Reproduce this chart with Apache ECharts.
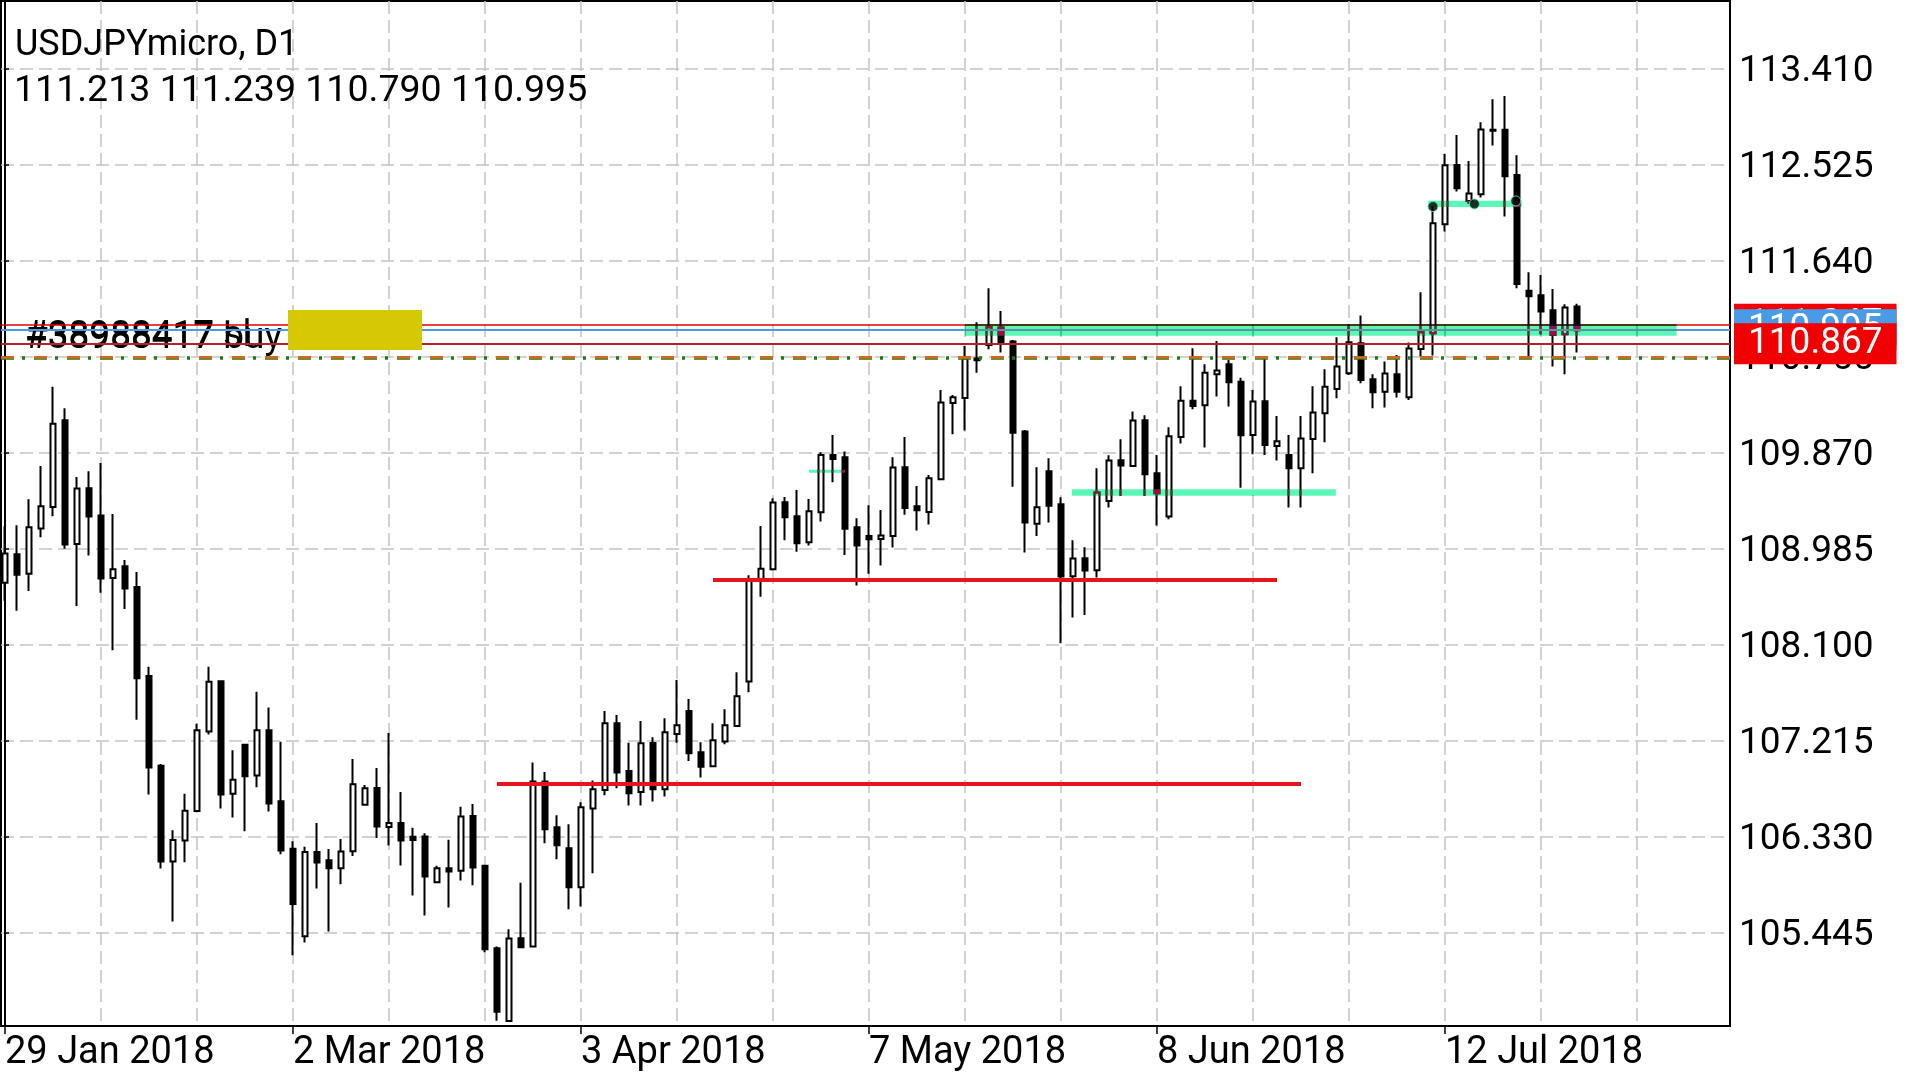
<!DOCTYPE html>
<html>
<head>
<meta charset="utf-8">
<title>USDJPYmicro, D1</title>
<script src="https://cdn.jsdelivr.net/npm/echarts@6/dist/echarts.min.js"></script>
<style>
    html, body { margin: 0; padding: 0; background: #fff; }
    #chart { width: 1920px; height: 1080px; }
</style>
</head>
<body>
<div id="chart"></div>
<script>
// 日线数据 (Jan 29 - Jul 27 2018), 按索引排列
const opens = [
    108.668, 108.929, 108.749, 109.168, 109.366, 110.166, 109.024, 109.539, 109.288, 108.710,
    108.819, 108.629, 107.807, 106.979, 106.097, 106.291, 106.563, 107.296, 107.758, 106.721,
    107.173, 106.891, 107.307, 106.654, 106.214, 105.408, 106.184, 106.110, 106.036, 106.193,
    106.621, 106.775, 106.415, 106.452, 106.325, 106.329, 105.907, 106.036, 106.012, 106.516,
    106.058, 105.297, 104.626, 105.390, 105.313, 106.834, 106.413, 106.219, 105.860, 106.585,
    106.757, 107.372, 106.932, 106.739, 107.190, 106.763, 107.273, 107.485, 107.104, 106.975,
    107.203, 107.347, 107.756, 108.687, 108.791, 109.409, 109.280, 109.040, 109.317, 109.845,
    109.824, 109.179, 109.099, 109.071, 109.099, 109.732, 109.372, 109.320, 109.621, 110.325,
    110.371, 110.734, 110.859, 111.019, 110.890, 110.061, 109.212, 109.695, 109.391, 108.727,
    108.893, 108.782, 109.421, 109.796, 109.744, 110.165, 109.676, 109.277, 110.011, 110.346,
    110.303, 110.589, 110.681, 110.521, 110.030, 110.340, 109.928, 109.845, 109.722, 109.993,
    110.229, 110.454, 110.598, 110.875, 110.543, 110.429, 110.589, 110.377, 110.823, 110.967,
    111.972, 112.519, 112.187, 112.248, 112.842, 112.842, 112.427, 111.360, 111.317, 111.179,
    110.958, 111.213
];
const closes = [
    108.936, 108.742, 109.179, 109.373, 110.134, 109.020, 109.535, 109.278, 108.706, 108.791,
    108.615, 107.786, 106.965, 106.097, 106.295, 106.566, 107.307, 107.754, 106.714, 106.852,
    106.883, 107.307, 106.633, 106.199, 105.706, 106.184, 106.088, 106.036, 106.190, 106.809,
    106.772, 106.421, 106.452, 106.292, 106.295, 105.959, 106.036, 106.005, 106.513, 106.042,
    105.288, 104.713, 105.387, 105.307, 106.834, 106.394, 106.247, 105.860, 106.597, 106.763,
    107.372, 106.917, 106.726, 107.187, 106.763, 107.289, 107.353, 107.095, 106.972, 107.215,
    107.353, 107.621, 108.687, 108.797, 109.406, 109.271, 109.031, 109.326, 109.845, 109.809,
    109.166, 109.010, 109.068, 109.102, 109.729, 109.357, 109.335, 109.630, 110.328, 110.377,
    110.734, 110.718, 111.022, 110.881, 110.051, 109.222, 109.363, 109.378, 108.724, 108.890,
    108.779, 109.498, 109.793, 109.747, 110.162, 109.667, 109.492, 110.018, 110.346, 110.297,
    110.604, 110.623, 110.515, 110.027, 110.337, 109.938, 109.971, 109.722, 109.996, 110.236,
    110.475, 110.660, 110.884, 110.537, 110.423, 110.595, 110.429, 110.826, 110.976, 111.981,
    112.516, 112.304, 112.255, 112.845, 112.835, 112.414, 111.422, 111.308, 111.167, 110.952,
    111.204, 110.995
];
const lows = [
    108.502, 108.410, 108.590, 109.087, 109.281, 108.981, 108.453, 108.918, 108.576, 108.044,
    108.424, 107.405, 106.714, 106.034, 105.544, 106.090, 106.552, 107.268, 106.587, 106.503,
    106.376, 106.781, 106.559, 106.164, 105.233, 105.350, 105.848, 105.451, 105.888, 106.147,
    106.621, 106.313, 106.245, 106.061, 105.784, 105.599, 105.898, 105.673, 105.922, 105.879,
    105.260, 104.629, 104.626, 105.307, 105.313, 106.265, 106.118, 105.657, 105.682, 105.989,
    106.708, 106.772, 106.613, 106.613, 106.650, 106.696, 107.193, 107.024, 106.871, 106.975,
    107.178, 107.347, 107.657, 108.539, 108.779, 109.059, 108.954, 109.010, 109.231, 109.593,
    108.924, 108.641, 108.751, 108.825, 108.991, 109.295, 109.148, 109.203, 109.621, 110.036,
    110.070, 110.604, 110.820, 110.789, 109.553, 108.945, 109.099, 109.222, 108.109, 108.346,
    108.370, 108.715, 109.360, 109.467, 109.744, 109.467, 109.194, 109.252, 109.950, 110.266,
    109.913, 110.383, 110.291, 109.544, 109.852, 109.845, 109.793, 109.360, 109.360, 109.676,
    109.962, 110.368, 110.583, 110.506, 110.276, 110.282, 110.374, 110.352, 110.752, 110.761,
    111.904, 112.273, 112.160, 112.218, 112.697, 112.043, 111.382, 110.743, 110.958, 110.660,
    110.589, 110.790
];
const highs = [
    109.189, 109.197, 109.436, 109.743, 110.473, 110.275, 109.641, 109.694, 109.771, 109.302,
    108.876, 108.766, 107.892, 106.996, 106.386, 106.721, 107.367, 107.892, 107.758, 107.123,
    107.180, 107.663, 107.518, 107.201, 106.284, 106.233, 106.452, 106.212, 106.304, 107.043,
    106.803, 106.960, 107.283, 106.738, 106.409, 106.359, 106.058, 106.298, 106.602, 106.627,
    106.067, 105.313, 105.473, 105.901, 107.009, 106.923, 106.524, 106.441, 106.643, 106.843,
    107.485, 107.449, 107.193, 107.393, 107.243, 107.418, 107.771, 107.596, 107.197, 107.372,
    107.501, 107.842, 108.736, 109.191, 109.446, 109.458, 109.523, 109.440, 109.870, 110.030,
    109.876, 109.262, 109.381, 109.338, 109.824, 110.011, 109.560, 109.661, 110.445, 110.399,
    110.850, 111.068, 111.382, 111.173, 110.906, 110.076, 109.732, 109.815, 109.455, 109.059,
    108.994, 109.722, 109.842, 109.990, 110.245, 110.211, 109.845, 110.100, 110.478, 110.829,
    110.681, 110.896, 110.721, 110.558, 110.445, 110.746, 110.205, 110.030, 110.205, 110.478,
    110.635, 110.930, 111.050, 111.130, 110.589, 110.706, 110.767, 110.881, 111.345, 112.135,
    112.620, 112.795, 112.556, 112.912, 113.124, 113.155, 112.608, 111.529, 111.505, 111.376,
    111.234, 111.239
];

// 坐标轴刻度
const dateTickIndex = [0, 24, 48, 72, 96, 120];
const dateTickLabels = ['29 Jan 2018', '2 Mar 2018', '3 Apr 2018', '7 May 2018', '8 Jun 2018', '12 Jul 2018'];
const gridIndex = [0, 8, 16, 24, 32, 40, 48, 56, 64, 72, 80, 88, 96, 104, 112, 120, 128, 136];
const priceTicks = [105.445, 106.330, 107.215, 108.100, 108.985, 109.870, 110.755, 111.640, 112.525, 113.410];

// 标题行
const symbolTitle = 'USDJPYmicro, D1';
const lastBar = [111.213, 111.239, 110.790, 110.995];

// 水平价位线
const askLevel = 111.047;
const blueLevel = 110.995;
const bidLevel = 110.867;
const stopLevel = 110.740;
// 红色线段 [起始索引, 结束索引, 价格]
const redSegments = [[41, 108, 106.817], [59, 106, 108.699]];
// 绿色区域 [x0, x1, 下沿, 上沿]
const zones = [
    [80, 139.3, 110.945, 111.053],
    [88.9, 110.9, 109.470, 109.529],
    [67, 70, 109.682, 109.708],
    [118.6, 126.4, 112.132, 112.188]
];
const yellowBox = [23.58, 34.75, 110.813, 111.182];
const pivotDots = [[119, 112.135], [122.45, 112.159], [125.9, 112.187]];
const orderTexts = ['#38988417 sl', '#38988417 buy'];

const candles = opens.map((o, i) => [i, o, closes[i], lows[i], highs[i]]);

const FONT = 'Roboto';
const chart = echarts.init(document.getElementById('chart'), null, { renderer: 'canvas' });

function rectItem(params, api, fill) {
    const p0 = api.coord([api.value(0), api.value(3)]);
    const p1 = api.coord([api.value(1), api.value(2)]);
    return {
        type: 'rect',
        shape: { x: p0[0], y: p0[1], width: p1[0] - p0[0], height: p1[1] - p0[1] },
        style: { fill: fill }
    };
}

function priceLabel(text, bg) {
    return {
        show: true,
        position: 'end',
        distance: 4,
        formatter: text,
        color: '#fff',
        backgroundColor: bg,
        fontFamily: FONT,
        fontSize: 37,
        padding: [3, 14, 1, 14]
    };
}

const option = {
    backgroundColor: '#ffffff',
    animation: false,
    grid: {
        left: 1, right: 190, top: 1, bottom: 54,
        show: true, borderColor: '#000', borderWidth: 2, backgroundColor: 'transparent'
    },
    xAxis: [
        {
            type: 'value',
            min: -0.3333, max: 143.75,
            position: 'bottom',
            axisLine: { show: true, lineStyle: { color: '#000', width: 2 } },
            axisTick: { show: true, customValues: dateTickIndex, length: 8, lineStyle: { color: '#000', width: 1.5 } },
            axisLabel: {
                show: true,
                customValues: dateTickIndex,
                formatter: v => dateTickLabels[dateTickIndex.indexOf(Math.round(v))] || '',
                align: 'left',
                margin: 8,
                color: '#000',
                fontFamily: FONT,
                fontSize: 38
            },
            splitLine: { show: false }
        },
        {
            type: 'value',
            min: -0.3333, max: 143.75,
            position: 'top',
            axisLine: { show: false },
            axisTick: { show: false, customValues: gridIndex },
            axisLabel: { show: false },
            splitLine: { show: true, lineStyle: { color: '#c4c4c4', width: 1.5, type: [13, 6] } }
        }
    ],
    yAxis: {
        type: 'value',
        position: 'right',
        min: 104.581, max: 114.030,
        axisLine: { show: true, lineStyle: { color: '#000', width: 2 } },
        axisTick: { show: true, customValues: priceTicks, length: 4, lineStyle: { color: '#000', width: 1.5 } },
        axisLabel: {
            customValues: priceTicks,
            formatter: v => v.toFixed(3),
            margin: 9,
            verticalAlign: 'top',
            lineHeight: 7,
            color: '#000',
            fontFamily: FONT,
            fontSize: 37
        },
        splitLine: { show: true, lineStyle: { color: '#c4c4c4', width: 1.5, type: [13, 6] } }
    },
    graphic: [
        { type: 'text', z: 100, style: { x: 15, y: 45.5, text: symbolTitle, verticalAlign: 'middle', fill: '#000', font: '36px Roboto' } },
        { type: 'text', z: 100, style: { x: 14, y: 91.5, text: lastBar.map(v => v.toFixed(3)).join(' '), verticalAlign: 'middle', fill: '#000', font: '37.5px Roboto' } },
        // 订单文字在价位线之下
        { type: 'text', z: 3, style: { x: 25, y: 337, text: orderTexts[0], verticalAlign: 'middle', fill: '#000', font: '37px Roboto' } },
        { type: 'text', z: 3, style: { x: 25, y: 339, text: orderTexts[1], verticalAlign: 'middle', fill: '#000', font: '37px Roboto' } }
    ],
    series: [
        {
            type: 'candlestick',
            z: 2,
            data: candles,
            encode: { x: 0, y: [1, 2, 3, 4] },
            barWidth: 6,
            itemStyle: {
                color: '#ffffff', color0: '#000000',
                borderColor: '#000000', borderColor0: '#000000',
                borderWidth: 2
            },
            markLine: {
                silent: true,
                symbol: 'none',
                animation: false,
                data: [
                    { yAxis: askLevel, lineStyle: { color: '#e60000', width: 1.5, type: 'solid' }, label: priceLabel(askLevel.toFixed(3), '#f00000') },
                    { yAxis: blueLevel, lineStyle: { color: '#4a9be6', width: 2, type: 'solid' }, label: priceLabel(blueLevel.toFixed(3), '#4a9be6') },
                    { yAxis: bidLevel, lineStyle: { color: '#b42323', width: 2, type: 'solid' }, label: priceLabel(bidLevel.toFixed(3), '#f00000') },
                    { yAxis: stopLevel, lineStyle: { color: '#1f7a10', width: 3.5, type: [13, 8, 3, 9] }, label: { show: false } },
                    { yAxis: stopLevel + 0.009, lineStyle: { color: '#e2661a', width: 2.5, type: [13, 20] }, label: { show: false } },
                    ...redSegments.map(s => [
                        { coord: [s[0], s[2]], lineStyle: { color: '#e8141c', width: 4, type: 'solid' }, label: { show: false } },
                        { coord: [s[1], s[2]] }
                    ])
                ]
            }
        },
        {
            // 黄色矩形
            type: 'custom',
            z: 12,
            silent: true,
            encode: { x: [0, 1], y: [2, 3] },
            data: [yellowBox],
            renderItem: (params, api) => rectItem(params, api, '#d5c905')
        },
        {
            // 绿色区域, difference 混合模拟 MT4 的反色效果
            type: 'custom',
            z: 15,
            silent: true,
            blendMode: 'difference',
            encode: { x: [0, 1], y: [2, 3] },
            data: zones,
            renderItem: (params, api) => rectItem(params, api, '#a50847')
        },
        {
            type: 'scatter',
            z: 20,
            silent: true,
            symbolSize: 10,
            data: pivotDots,
            itemStyle: { color: '#000', borderColor: '#5af7b8', borderWidth: 1 }
        }
    ]
};

chart.setOption(option);

window.addEventListener('resize', function() {
    chart.resize();
});
</script>
</body>
</html>
